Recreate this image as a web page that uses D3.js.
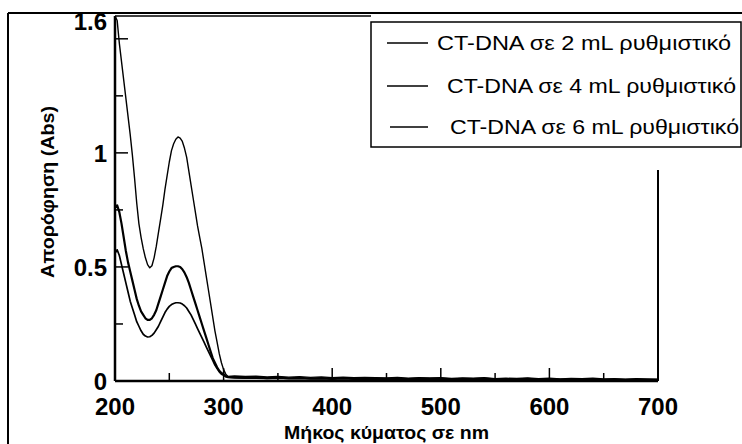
<!DOCTYPE html>
<html>
<head>
<meta charset="utf-8">
<script src="https://cdn.jsdelivr.net/npm/d3@7"></script>
<style>
  body { margin: 0; background: #fff; }
  svg { display: block; font-family: "Liberation Sans", Arial, sans-serif; }
</style>
</head>
<body>
<div id="chart"></div>
<script>
// wavelengths (nm) of the main band, then the flat tail
var wlPeak = [200,202,204,206,208,210,212,214,216,218,220,222,224,226,228,230,232,234,236,238,
              240,242,244,246,248,250,252,254,256,258,260,262,264,266,268,270,272,274,276,278,
              280,282,284,286,288,290,292,294,296,298,300,302,304];
var wlTail = [310,320,330,340,350,360,370,380,390,400,410,420,430,440,450,460,470,480,490,500,
              510,520,530,540,550,560,570,580,590,600,610,620,630,640,650,660,670,680,690,700];

var abs2 = [1.60,1.58,1.48,1.40,1.32,1.24,1.16,1.08,0.99,0.89,0.78,0.69,0.63,0.58,0.54,0.51,0.496,0.505,0.54,0.59,
            0.65,0.71,0.77,0.84,0.90,0.96,1.01,1.04,1.06,1.07,1.065,1.05,1.02,0.98,0.92,0.86,0.80,0.74,0.68,0.63,
            0.58,0.52,0.46,0.40,0.34,0.28,0.22,0.17,0.12,0.08,0.05,0.03,0.02];
var abs4 = [0.76,0.77,0.74,0.69,0.63,0.57,0.52,0.48,0.44,0.40,0.36,0.33,0.305,0.29,0.275,0.268,0.268,0.275,0.29,0.31,
            0.34,0.37,0.40,0.43,0.46,0.48,0.495,0.50,0.503,0.503,0.50,0.49,0.475,0.455,0.43,0.40,0.37,0.34,0.31,0.28,
            0.25,0.22,0.19,0.16,0.13,0.10,0.08,0.06,0.045,0.035,0.03,0.02,0.018];
var abs6 = [0.56,0.575,0.55,0.51,0.47,0.43,0.39,0.35,0.32,0.29,0.26,0.24,0.22,0.205,0.197,0.193,0.194,0.20,0.21,0.225,
            0.24,0.26,0.28,0.30,0.315,0.327,0.335,0.34,0.343,0.343,0.342,0.337,0.33,0.32,0.305,0.29,0.27,0.25,0.23,0.21,
            0.19,0.17,0.15,0.13,0.11,0.09,0.07,0.055,0.04,0.03,0.025,0.02,0.016];

var tail2 = [0.022,0.020,0.021,0.018,0.020,0.017,0.019,0.016,0.018,0.015,0.017,0.014,0.016,0.015,0.013,0.016,0.012,0.014,0.013,0.015,
             0.011,0.013,0.012,0.014,0.010,0.012,0.011,0.013,0.010,0.012,0.009,0.011,0.010,0.012,0.009,0.010,0.008,0.010,0.009,0.008];
var tail4 = [0.017,0.015,0.016,0.013,0.015,0.012,0.014,0.011,0.013,0.010,0.012,0.010,0.011,0.010,0.009,0.011,0.008,0.010,0.009,0.010,
             0.007,0.009,0.008,0.010,0.007,0.008,0.007,0.009,0.006,0.008,0.006,0.007,0.006,0.008,0.005,0.006,0.005,0.006,0.005,0.005];
var tail6 = [0.014,0.012,0.013,0.011,0.012,0.010,0.011,0.009,0.010,0.008,0.010,0.008,0.009,0.008,0.007,0.009,0.006,0.008,0.007,0.008,
             0.006,0.007,0.006,0.008,0.005,0.006,0.005,0.007,0.005,0.006,0.004,0.005,0.004,0.006,0.004,0.005,0.003,0.004,0.004,0.003];

var legendLabels = ["CT-DNA σε 2 mL ρυθμιστικό", "CT-DNA σε 4 mL ρυθμιστικό", "CT-DNA σε 6 mL ρυθμιστικό"];
var xTicks = [200,300,400,500,600,700];
var xMinor = [250,350,450,550,650];
var yTicks = [0,0.5,1,1.6];
var yMajor = [0.5,1,1.5];
var yMinor = [0.25,0.75,1.25];

var W = 742, H = 444;
var pL = 115, pR = 658, pT = 16, pB = 381;

var svg = d3.select("#chart").append("svg")
    .attr("width", W).attr("height", H);
svg.append("rect").attr("width", W).attr("height", H).attr("fill", "#fff");

var x = d3.scaleLinear().domain([200, 700]).range([pL, pR]);
var y = d3.scaleLinear().domain([0, 1.6]).range([pB, pT]);

function series(vals, tail) {
    var pts = wlPeak.map(function(w, i) { return [w, vals[i]]; });
    return pts.concat(wlTail.map(function(w, i) { return [w, tail[i]]; }));
}
var allSeries = [
    { d: series(abs2, tail2), sw: 1.4 },
    { d: series(abs4, tail4), sw: 2.2 },
    { d: series(abs6, tail6), sw: 1.7 }
];

// outer figure frame
svg.append("line").attr("x1", 8).attr("y1", 13).attr("x2", W).attr("y2", 13)
    .attr("stroke", "#000").attr("stroke-width", 2);
svg.append("line").attr("x1", 8).attr("y1", 13).attr("x2", 8).attr("y2", H)
    .attr("stroke", "#000").attr("stroke-width", 2);

// curves
var line = d3.line().x(function(d) { return x(d[0]); }).y(function(d) { return y(d[1]); });
svg.selectAll(".curve").data(allSeries).enter().append("path")
    .attr("class", "curve")
    .attr("d", function(s) { return line(s.d); })
    .attr("fill", "none").attr("stroke", "#000")
    .attr("stroke-width", function(s) { return s.sw; })
    .attr("stroke-linejoin", "round");

// plot box
var ax = svg.append("g").attr("stroke", "#000").attr("fill", "none");
ax.append("line").attr("x1", pL).attr("y1", pT).attr("x2", pL).attr("y2", pB).attr("stroke-width", 2.5);
ax.append("line").attr("x1", pL).attr("y1", pB).attr("x2", pR).attr("y2", pB).attr("stroke-width", 2.5);
ax.append("line").attr("x1", pL).attr("y1", pT).attr("x2", 371).attr("y2", pT).attr("stroke-width", 1.5);
ax.append("line").attr("x1", pR).attr("y1", 170).attr("x2", pR).attr("y2", pB).attr("stroke-width", 2);

// inward ticks
ax.selectAll(".xt").data(xTicks.slice(1, -1)).enter().append("line")
    .attr("x1", x).attr("x2", x).attr("y1", pB).attr("y2", pB - 13).attr("stroke-width", 1.5);
ax.selectAll(".xm").data(xMinor).enter().append("line")
    .attr("x1", x).attr("x2", x).attr("y1", pB).attr("y2", pB - 8).attr("stroke-width", 1.5);
ax.selectAll(".yt").data(yMajor).enter().append("line")
    .attr("y1", y).attr("y2", y).attr("x1", pL).attr("x2", pL + 13).attr("stroke-width", 1.5);
ax.selectAll(".ym").data(yMinor).enter().append("line")
    .attr("y1", y).attr("y2", y).attr("x1", pL).attr("x2", pL + 8).attr("stroke-width", 1.5);

// tick labels
svg.selectAll(".xl").data(xTicks).enter().append("text")
    .attr("x", x).attr("y", 415)
    .attr("text-anchor", "middle")
    .attr("font-size", 24).attr("font-weight", "bold")
    .text(function(d) { return d; });
svg.selectAll(".yl").data(yTicks).enter().append("text")
    .attr("x", pL - 8)
    .attr("y", function(d) { return d === 1.6 ? y(d) + 5 : y(d); })
    .attr("dy", "0.36em")
    .attr("text-anchor", "end")
    .attr("font-size", 24).attr("font-weight", "bold")
    .text(function(d) { return d; });

// axis titles
svg.append("text")
    .attr("x", (pL + pR) / 2).attr("y", 439)
    .attr("text-anchor", "middle")
    .attr("font-size", 19).attr("font-weight", "bold")
    .attr("textLength", 205).attr("lengthAdjust", "spacingAndGlyphs")
    .text("Μήκος κύματος σε nm");
svg.append("text")
    .attr("transform", "translate(54,192) rotate(-90)")
    .attr("text-anchor", "middle")
    .attr("font-size", 18).attr("font-weight", "bold")
    .attr("textLength", 172).attr("lengthAdjust", "spacingAndGlyphs")
    .text("Απορόφηση (Abs)");

// legend
var lg = svg.append("g");
lg.append("rect").attr("x", 371).attr("y", 22).attr("width", 370).attr("height", 125)
    .attr("fill", "#fff").attr("stroke", "#000").attr("stroke-width", 1.5);
var rowsY = [43, 86, 127];
var textX = [437, 447, 450];
var lineX0 = [387, 387, 390];
lg.selectAll(".ll").data(legendLabels).enter().append("line")
    .attr("x1", function(d, i) { return lineX0[i]; }).attr("x2", 428)
    .attr("y1", function(d, i) { return rowsY[i]; }).attr("y2", function(d, i) { return rowsY[i]; })
    .attr("stroke", "#000").attr("stroke-width", 1.4);
lg.selectAll(".lt").data(legendLabels).enter().append("text")
    .attr("x", function(d, i) { return textX[i]; })
    .attr("y", function(d, i) { return rowsY[i]; })
    .attr("dy", "0.36em")
    .attr("font-size", 20)
    .attr("textLength", function(d, i) { return i === 0 ? 294 : 289; })
    .attr("lengthAdjust", "spacingAndGlyphs")
    .text(function(d) { return d; });
</script>
</body>
</html>
